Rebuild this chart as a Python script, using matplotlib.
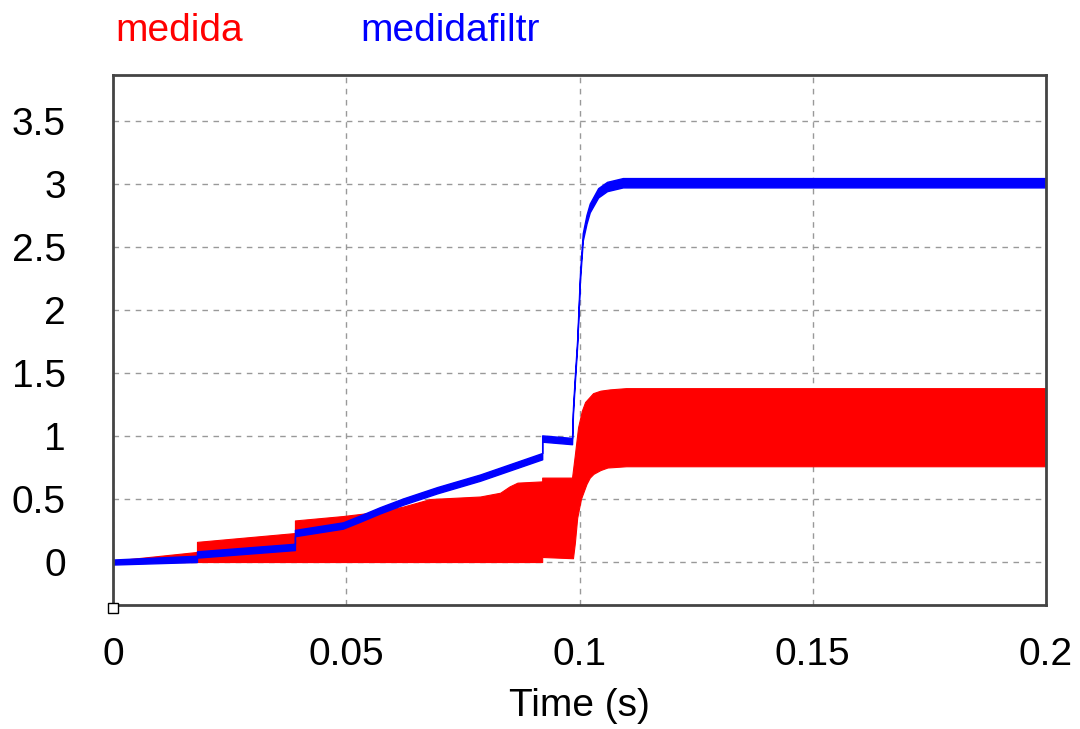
import matplotlib
matplotlib.use("Agg")
import matplotlib.pyplot as plt
import numpy as np

plt.rcParams['font.family'] = ['Liberation Sans', 'DejaVu Sans']

# ---- data ----
# medida: fast-switching signal shown as its min/max envelope
red_t  = [0.0, 0.018, 0.018, 0.039, 0.039, 0.0493, 0.0572, 0.0622, 0.068, 0.0787, 0.083, 0.0850, 0.0867,
          0.0920, 0.0920, 0.0984, 0.0990, 0.0997, 0.1005, 0.1012, 0.1029, 0.1045, 0.1065, 0.1100, 0.2]
red_hi = [0.01, 0.08, 0.16, 0.23, 0.33, 0.365, 0.40, 0.44, 0.50, 0.52, 0.55, 0.60, 0.63,
          0.64, 0.67, 0.67, 0.85, 1.07, 1.20, 1.27, 1.34, 1.36, 1.37, 1.38, 1.38]
red_lo_t = [0.0, 0.0920, 0.0920, 0.0986, 0.0990, 0.0995, 0.1003, 0.1015, 0.1022, 0.1030, 0.1045, 0.1060, 0.1100, 0.2]
red_lo   = [0.0, 0.0, 0.04, 0.03, 0.15, 0.35, 0.50, 0.62, 0.67, 0.70, 0.73, 0.75, 0.76, 0.76]

# medidafiltr: filtered signal with a small ripple band
blue_t   = [0.0, 0.018, 0.018, 0.039, 0.039, 0.0493, 0.0530, 0.0572, 0.0622, 0.0695, 0.0787, 0.0920, 0.0920,
            0.0984, 0.0986, 0.0990, 0.0995, 0.1001, 0.1007, 0.1015, 0.1022, 0.1040, 0.1059, 0.1093, 0.2]
blue_mid = [0.0, 0.025, 0.06, 0.12, 0.23, 0.29, 0.345, 0.41, 0.48, 0.57, 0.67, 0.84, 0.98,
            0.96, 1.20, 1.45, 1.74, 2.26, 2.58, 2.72, 2.81, 2.93, 2.98, 3.01, 3.01]
blue_rip = [0.02, 0.025, 0.025, 0.025, 0.025, 0.025, 0.025, 0.025, 0.025, 0.025, 0.025, 0.025, 0.025,
            0.025, 0.025, 0.025, 0.025, 0.03, 0.03, 0.035, 0.035, 0.037, 0.037, 0.037, 0.037]

x_ticks = [0, 0.05, 0.1, 0.15, 0.2]
x_tick_labels = ['0', '0.05', '0.1', '0.15', '0.2']
y_ticks = [0, 0.5, 1, 1.5, 2, 2.5, 3, 3.5]
y_tick_labels = ['0', '0.5', '1', '1.5', '2', '2.5', '3', '3.5']
series_names = ['medida', 'medidafiltr']
x_label = 'Time (s)'

# ---- figure ----
fig = plt.figure(figsize=(10.8, 7.29), dpi=100)
ax = fig.add_axes([113/1080, 1 - 605/729, (1046-113)/1080, (605-75)/729])

# red envelope: merge the two envelopes on a common set of times
t_all = np.array(sorted(set(red_t) | set(red_lo_t)))
def env(ts, vs, tq):
    ts = np.asarray(ts); vs = np.asarray(vs)
    out_l, out_r = [], []
    for t in tq:
        idx = np.where(ts == t)[0]
        if len(idx):
            out_l.append(vs[idx[0]]); out_r.append(vs[idx[-1]])
        else:
            v = np.interp(t, ts, vs)
            out_l.append(v); out_r.append(v)
    return out_l, out_r
hl, hr = env(red_t, red_hi, t_all)
ll, lr = env(red_lo_t, red_lo, t_all)
tt, hh, lo = [], [], []
for i, t in enumerate(t_all):
    tt += [t, t]; hh += [hl[i], hr[i]]; lo += [ll[i], lr[i]]
ax.fill_between(tt, lo, hh, color='#ff0000', lw=0.8, edgecolor='#ff0000', zorder=3)

bm = np.array(blue_mid); br = np.array(blue_rip)
ax.fill_between(blue_t, bm - br, bm + br, color='#0000ff', lw=1.0, edgecolor='#0000ff', zorder=4)

ax.set_xlim(0, 0.2)
ax.set_ylim(-0.341, 3.865)
ax.set_xticks(x_ticks)
ax.set_xticklabels(x_tick_labels)
ax.set_yticks(y_ticks)
ax.set_yticklabels(y_tick_labels)
ax.tick_params(axis='both', length=0, labelsize=28, colors='black')
ax.tick_params(axis='x', pad=23)
ax.tick_params(axis='y', pad=34)
ax.set_xlabel(x_label, fontsize=28, labelpad=11)

ax.grid(True, color='#999999', linestyle=(0, (4, 4)), linewidth=1.0, zorder=1)
ax.set_axisbelow(True)
for s in ax.spines.values():
    s.set_color('#444444')
    s.set_linewidth(2.0)
    s.set_zorder(5)

# small square marker at the origin corner
ax.plot([0], [-0.365], marker='s', markersize=7.5, markerfacecolor='white',
        markeredgecolor='black', markeredgewidth=1.0, clip_on=False, zorder=6)

fig.text(115/1080, 1 - 41/729, series_names[0], color='#ff0000', fontsize=28, ha='left', va='baseline')
fig.text(360/1080, 1 - 41/729, series_names[1], color='#0000ff', fontsize=28, ha='left', va='baseline')

fig.savefig('out.png', dpi=100, facecolor='white')
